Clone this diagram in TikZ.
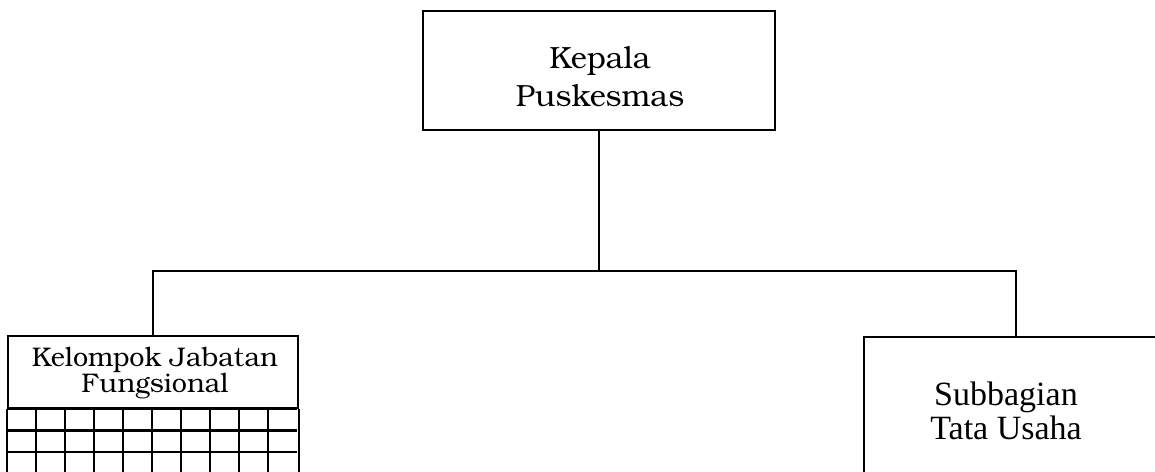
\documentclass[tikz,border=0pt]{standalone}
\usepackage{fontspec}
\newfontfamily\timesfont{Liberation Serif}
\newfontfamily\bonumfont{texgyrebonum-regular.otf}
\begin{document}
\begin{tikzpicture}[x=.75pt,y=-.75pt]
      \tikzstyle{kotak} = [draw,line width=1.6pt,inner sep=0pt];
      \tikzstyle{garis} = [line width=1.4pt];
      \tikzstyle{kisi} = [line width=1.7pt];
      \tikzstyle{tulisan} = [align=center,inner sep=0pt];
      \useasboundingbox (0,0) rectangle (1155,471);
      \node [kotak,minimum width=264pt,minimum height=89.25pt] (kepala) at (599,70.5) {};
      \node [tulisan,font=\bonumfont\fontsize{23}{28.5}\selectfont] (kepalateks) at (600,77) {Kepala\\Puskesmas};
      \node [kotak,minimum width=217.5pt,minimum height=54pt] (jabatan) at (153,372) {};
      \node [tulisan,font=\bonumfont\fontsize{20.2}{18.75}\selectfont] (jabatanteks) at (155,373) {Kelompok Jabatan\\Fungsional};
      \node [kotak,anchor=north west,minimum width=226.5pt,minimum height=102pt] (tatausaha) at (863,336) {};
      \node [tulisan,font=\timesfont\fontsize{25.5}{25}\selectfont] (tatausahateks) at (1006,411) {Subbagian\\Tata Usaha};
      \coordinate (cabang) at (599,271);
      \coordinate (kanan) at (1016,336);
      \draw [garis] (kepala.south) -- (cabang);
      \draw [garis] (jabatan.north) |- (cabang) -| (kanan);
      \foreach \i in {1,...,9}
        \draw [kisi] (jabatan.south west) ++(29*\i,0) -- ++(0,70);
      \foreach \j in {0,...,2}
        \draw [kisi] (jabatan.south west) ++(0,21.5*\j) -- ++(290,0);
      \draw [kotak] (jabatan.south west) -- ++(0,70) -| (jabatan.south east);
\end{tikzpicture}
\end{document}
